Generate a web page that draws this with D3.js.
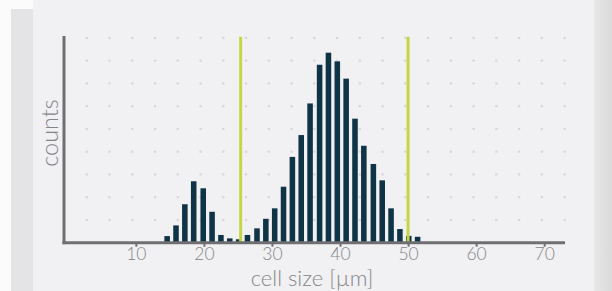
<!DOCTYPE html>
<html><head><meta charset="utf-8">
<script src="https://cdn.jsdelivr.net/npm/d3@7"></script>
<style>html,body{margin:0;padding:0;background:#fafafa;}svg{display:block;}</style>
</head><body>
<script>
// bin centres (cell size, µm)
const binCenters = [14.6, 15.9, 17.2, 18.5, 19.9, 21.2, 22.5, 23.8, 25.1, 26.4, 27.8, 29.1, 30.4, 31.7, 33.0, 34.3, 35.6, 37.0, 38.3, 39.6, 40.9, 42.2, 43.5, 44.9, 46.2, 47.5, 48.8, 50.1, 51.4];
// counts (in grid units)
const counts = [0.29, 0.76, 1.69, 2.70, 2.39, 1.36, 0.34, 0.19, 0.15, 0.34, 0.63, 1.05, 1.51, 2.46, 3.77, 4.73, 6.12, 7.82, 8.35, 7.97, 7.21, 5.45, 4.26, 3.46, 2.74, 1.51, 0.60, 0.30, 0.26];
const xTicks = [10, 20, 30, 40, 50, 60, 70];
const gateLines = [25.4, 50.0];
const binWidth = 1.315;

const W = 612, H = 291;
const svg = d3.select("body").append("svg").attr("width", W).attr("height", H);

// page background pieces
svg.append("rect").attr("x", 0).attr("y", 0).attr("width", W).attr("height", H).attr("fill", "#fbfbfb");
svg.append("rect").attr("x", 11).attr("y", 9).attr("width", 22).attr("height", H - 9).attr("fill", "#e4e4e6");
svg.append("rect").attr("x", 33).attr("y", 0).attr("width", 561).attr("height", H).attr("fill", "#f1f1f3");
const grad = svg.append("defs").append("linearGradient").attr("id", "rg");
grad.append("stop").attr("offset", "0").attr("stop-color", "#e7e7e8");
grad.append("stop").attr("offset", "1").attr("stop-color", "#dadadb");
svg.append("rect").attr("x", 594).attr("y", 0).attr("width", 18).attr("height", H).attr("fill", "url(#rg)");

const x = d3.scaleLinear().domain([0, 73]).range([67.8, 564.6]);
const y = d3.scaleLinear().domain([0, 9]).range([242.7, 37.9]);
const axisX = 64;

// dot grid
const step = y(0) - y(1);
const dots = [];
for (let j = 1; j <= 9; j++) for (let k = 1; k <= 22; k++) dots.push([axisX + k * step, y(j)]);
svg.append("g").selectAll("rect").data(dots).join("rect")
  .attr("x", d => d[0] - 1.1).attr("y", d => d[1] - 1.1)
  .attr("width", 2.2).attr("height", 2.2).attr("fill", "#d6d6d9");

// bars
const bw = (x(binWidth) - x(0)) * 0.62;
svg.append("g").selectAll("rect").data(counts).join("rect")
  .attr("x", (d, i) => x(binCenters[i]) - bw / 2)
  .attr("y", d => y(d))
  .attr("width", bw)
  .attr("height", d => y(0) - y(d))
  .attr("fill", "#0f3446");

// gate lines
svg.append("g").selectAll("line").data(gateLines).join("line")
  .attr("x1", d => x(d)).attr("x2", d => x(d))
  .attr("y1", y(9.05)).attr("y2", y(0))
  .attr("stroke", "#c6d544").attr("stroke-width", 3);

// axes
const axisColor = "#6f6f71";
const textColor = "#858588";
const xa = svg.append("g").attr("transform", `translate(0,${y(0)})`)
  .call(d3.axisBottom(x).tickValues(xTicks).tickSize(4).tickPadding(1).tickFormat(d3.format("d")));
xa.select(".domain").remove();
xa.selectAll(".tick line").attr("stroke", axisColor).attr("stroke-width", 2);
xa.selectAll(".tick text").attr("fill", textColor).style("font-family", "Lato, sans-serif").style("font-size", "17.5px").style("font-weight", 300);

svg.append("line").attr("x1", axisX - 1.5).attr("x2", 565).attr("y1", y(0)).attr("y2", y(0))
  .attr("stroke", axisColor).attr("stroke-width", 3);
svg.append("line").attr("x1", axisX).attr("x2", axisX).attr("y1", 36).attr("y2", y(0) + 1.5)
  .attr("stroke", axisColor).attr("stroke-width", 3);

svg.append("text").attr("x", 312).attr("y", 285.5).attr("text-anchor", "middle")
  .attr("fill", textColor).style("font-family", "Lato, sans-serif").style("font-size", "22px").style("font-weight", 300)
  .text("cell size [µm]");
svg.append("text").attr("transform", `translate(58,133) rotate(-90)`).attr("text-anchor", "middle")
  .attr("fill", textColor).style("font-family", "Lato, sans-serif").style("font-size", "23.5px").style("font-weight", 300)
  .text("counts");
</script>
</body></html>
